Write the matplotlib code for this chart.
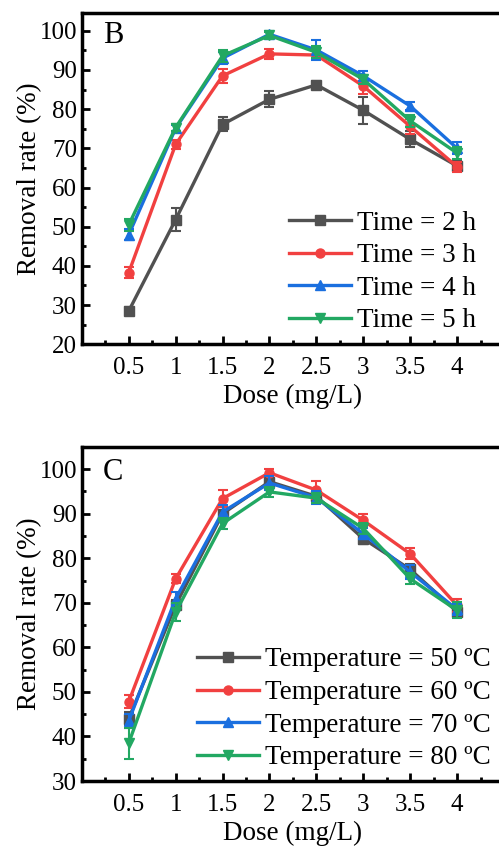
import matplotlib.pyplot as plt
from matplotlib.ticker import MultipleLocator

plt.rcParams['font.family'] = ['Liberation Serif', 'DejaVu Serif']

dose = [0.5, 1, 1.5, 2, 2.5, 3, 3.5, 4]
dose_labels = ['0.5', '1', '1.5', '2', '2.5', '3', '3.5', '4']

# panel B: reaction time
time_labels = ['Time = 2 h', 'Time = 3 h', 'Time = 4 h', 'Time = 5 h']
t2 = [28.5, 51.8, 76.1, 82.5, 86.2, 79.7, 72.3, 65.5]
t3 = [38.3, 71.0, 88.5, 94.1, 93.8, 85.9, 75.6, 65.3]
t4 = [48.0, 75.1, 93.0, 99.1, 95.1, 88.5, 80.8, 70.0]
t5 = [50.5, 75.3, 93.6, 98.8, 94.5, 87.6, 77.0, 68.8]
t2_err = [1.0, 3.0, 1.8, 2.0, 1.0, 3.5, 2.0, 1.2]
t3_err = [1.5, 1.2, 1.8, 1.2, 1.0, 2.0, 2.0, 1.3]
t4_err = [1.5, 0.8, 1.5, 0.8, 2.5, 1.2, 1.0, 1.5]
t5_err = [1.5, 0.8, 1.5, 0.8, 1.5, 1.2, 1.5, 1.5]

# panel C: temperature
temp_labels = ['Temperature = 50 ºC', 'Temperature = 60 ºC',
               'Temperature = 70 ºC', 'Temperature = 80 ºC']
c50 = [44.0, 69.5, 90.0, 97.2, 93.9, 84.4, 77.5, 68.0]
c60 = [47.8, 75.4, 93.4, 99.2, 95.3, 88.5, 81.0, 69.4]
c70 = [43.5, 70.9, 90.4, 96.9, 93.6, 85.5, 76.9, 68.5]
c80 = [38.5, 67.9, 87.8, 94.9, 93.5, 86.7, 75.4, 68.3]
c50_err = [1.5, 1.2, 1.5, 1.0, 1.2, 1.2, 1.2, 1.2]
c60_err = [1.5, 1.0, 2.0, 0.8, 2.0, 1.5, 1.2, 1.5]
c70_err = [1.5, 1.5, 1.5, 1.5, 1.5, 1.2, 1.5, 1.2]
c80_err = [3.5, 2.0, 1.2, 1.2, 1.2, 1.2, 1.2, 1.8]

colors = ['#515151', '#F14040', '#1A6FDF', '#22A862']
markers = ['s', 'o', '^', 'v']

fig = plt.figure(figsize=(4.99, 8.48), dpi=100)
axB = fig.add_axes([0.164, 0.594, 0.846, 0.391])
axC = fig.add_axes([0.164, 0.079, 0.846, 0.394])


def draw(ax, series, errs, labels, ylim, letter, letter_y, leg_x):
    handles = []
    for y, e, lab, c, m in zip(series, errs, labels, colors, markers):
        ax.errorbar(dose, y, yerr=e, fmt='none', ecolor=c, elinewidth=1.5,
                    capsize=3.5, capthick=1.5)
        h, = ax.plot(dose, y, color=c, marker=m, markersize=6.5,
                     linewidth=2.4, label=lab)
        handles.append(h)
    ax.set_xlim(0, 4.5)
    ax.set_ylim(*ylim)
    ax.set_xticks(dose)
    ax.set_xticklabels(dose_labels)
    ax.xaxis.set_minor_locator(MultipleLocator(0.25))
    ax.yaxis.set_major_locator(MultipleLocator(10))
    ax.yaxis.set_minor_locator(MultipleLocator(5))
    ax.tick_params(which='both', direction='in', labelsize=18, width=2)
    ax.tick_params(which='major', length=6)
    ax.tick_params(which='minor', length=3)
    ax.tick_params(axis='x', pad=9)
    for s in ax.spines.values():
        s.set_linewidth(2.5)
    ax.set_xlabel('Dose (mg/L)', fontsize=19.5, labelpad=4)
    ax.set_ylabel('Removal rate (%)', fontsize=19.5, labelpad=-2)
    ax.text(0.05, letter_y, letter, transform=ax.transAxes, fontsize=22,
            va='top', ha='left')
    ax.legend(handles=handles, loc='lower right', bbox_to_anchor=(leg_x, 0.0),
              fontsize=19.5, frameon=False, handlelength=2.3,
              handletextpad=0.22, labelspacing=0.28, borderaxespad=0)


draw(axB, [t2, t3, t4, t5], [t2_err, t3_err, t4_err, t5_err], time_labels,
     (20, 104.6), 'B', 0.976, 0.96)
draw(axC, [c50, c60, c70, c80], [c50_err, c60_err, c70_err, c80_err],
     temp_labels, (30, 105), 'C', 0.967, 0.995)

fig.savefig('out.png', dpi=100)
